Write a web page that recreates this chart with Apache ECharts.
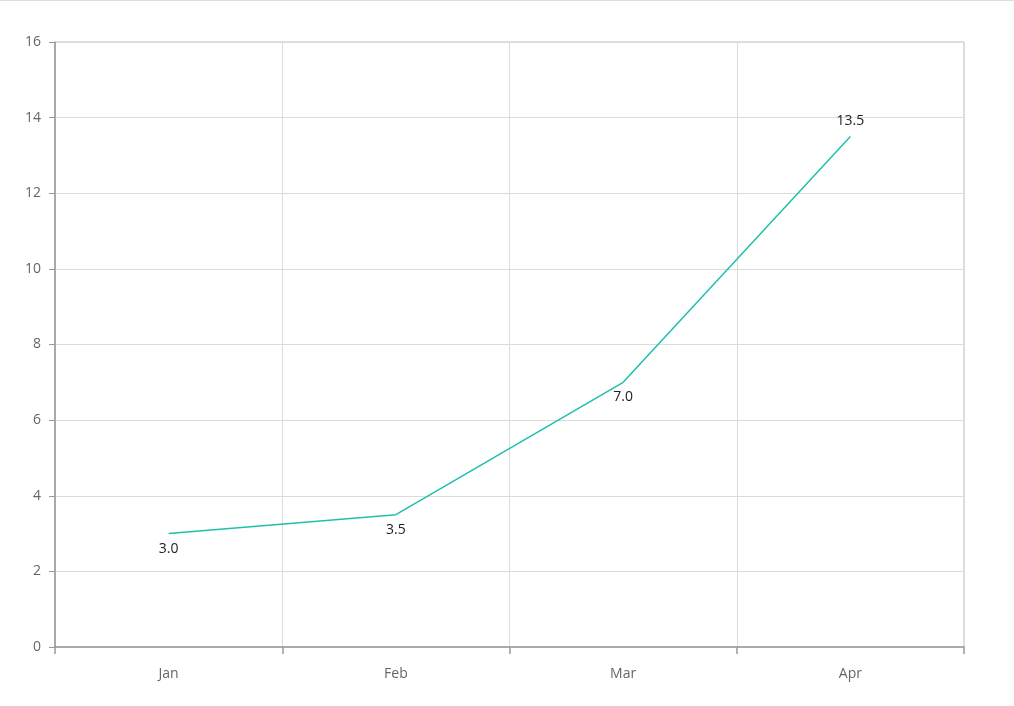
<!DOCTYPE html>
<html><head><meta charset="utf-8">
<script src="https://cdn.jsdelivr.net/npm/echarts@6/dist/echarts.min.js"></script>
<style>html,body{margin:0;padding:0;background:#fff}#c{width:1014px;height:706px;border-top:1px solid #ddd;box-sizing:border-box}</style>
</head><body><div id="c"></div>
<script>
const categories = ['Jan','Feb','Mar','Apr'];
const values = [3.0, 3.5, 7.0, 13.5];
const labelPos = ['bottom','bottom','bottom','top'];
const chart = echarts.init(document.getElementById('c'));
const font = '"Open Sans", "Noto Sans", sans-serif';
chart.setOption({
  animation:false,
  grid:{left:55,right:50,top:41,bottom:59,show:true,borderColor:'#bdbdbd',borderWidth:1},
  xAxis:{type:'category',data:categories,boundaryGap:true,
    axisLine:{lineStyle:{color:'#999',width:1.5}},
    axisTick:{show:true,alignWithLabel:false,length:7,lineStyle:{color:'#999',width:1.5}},
    axisLabel:{color:'#666',fontSize:14,margin:20,fontFamily:font},
    splitLine:{show:true,lineStyle:{color:'#dcdcdc'}}},
  yAxis:{type:'value',min:0,max:16,interval:2,
    axisLine:{show:true,lineStyle:{color:'#999',width:1.5}},
    axisTick:{show:true,length:6,lineStyle:{color:'#999'}},
    axisLabel:{color:'#666',fontSize:14,margin:14,fontFamily:font},
    splitLine:{lineStyle:{color:'#dcdcdc'}}},
  series:[{type:'line',symbol:'circle',symbolSize:0.1,showSymbol:true,
    data:values.map((v,i)=>({value:v,label:{position:labelPos[i]}})),
    lineStyle:{color:'#1ec0ac',width:1.5},itemStyle:{color:'#1ec0ac'},
    label:{show:true,color:'#222',fontSize:14,fontFamily:font,distance:8,formatter:p=>p.value.toFixed(1)}}]
});
</script></body></html>
